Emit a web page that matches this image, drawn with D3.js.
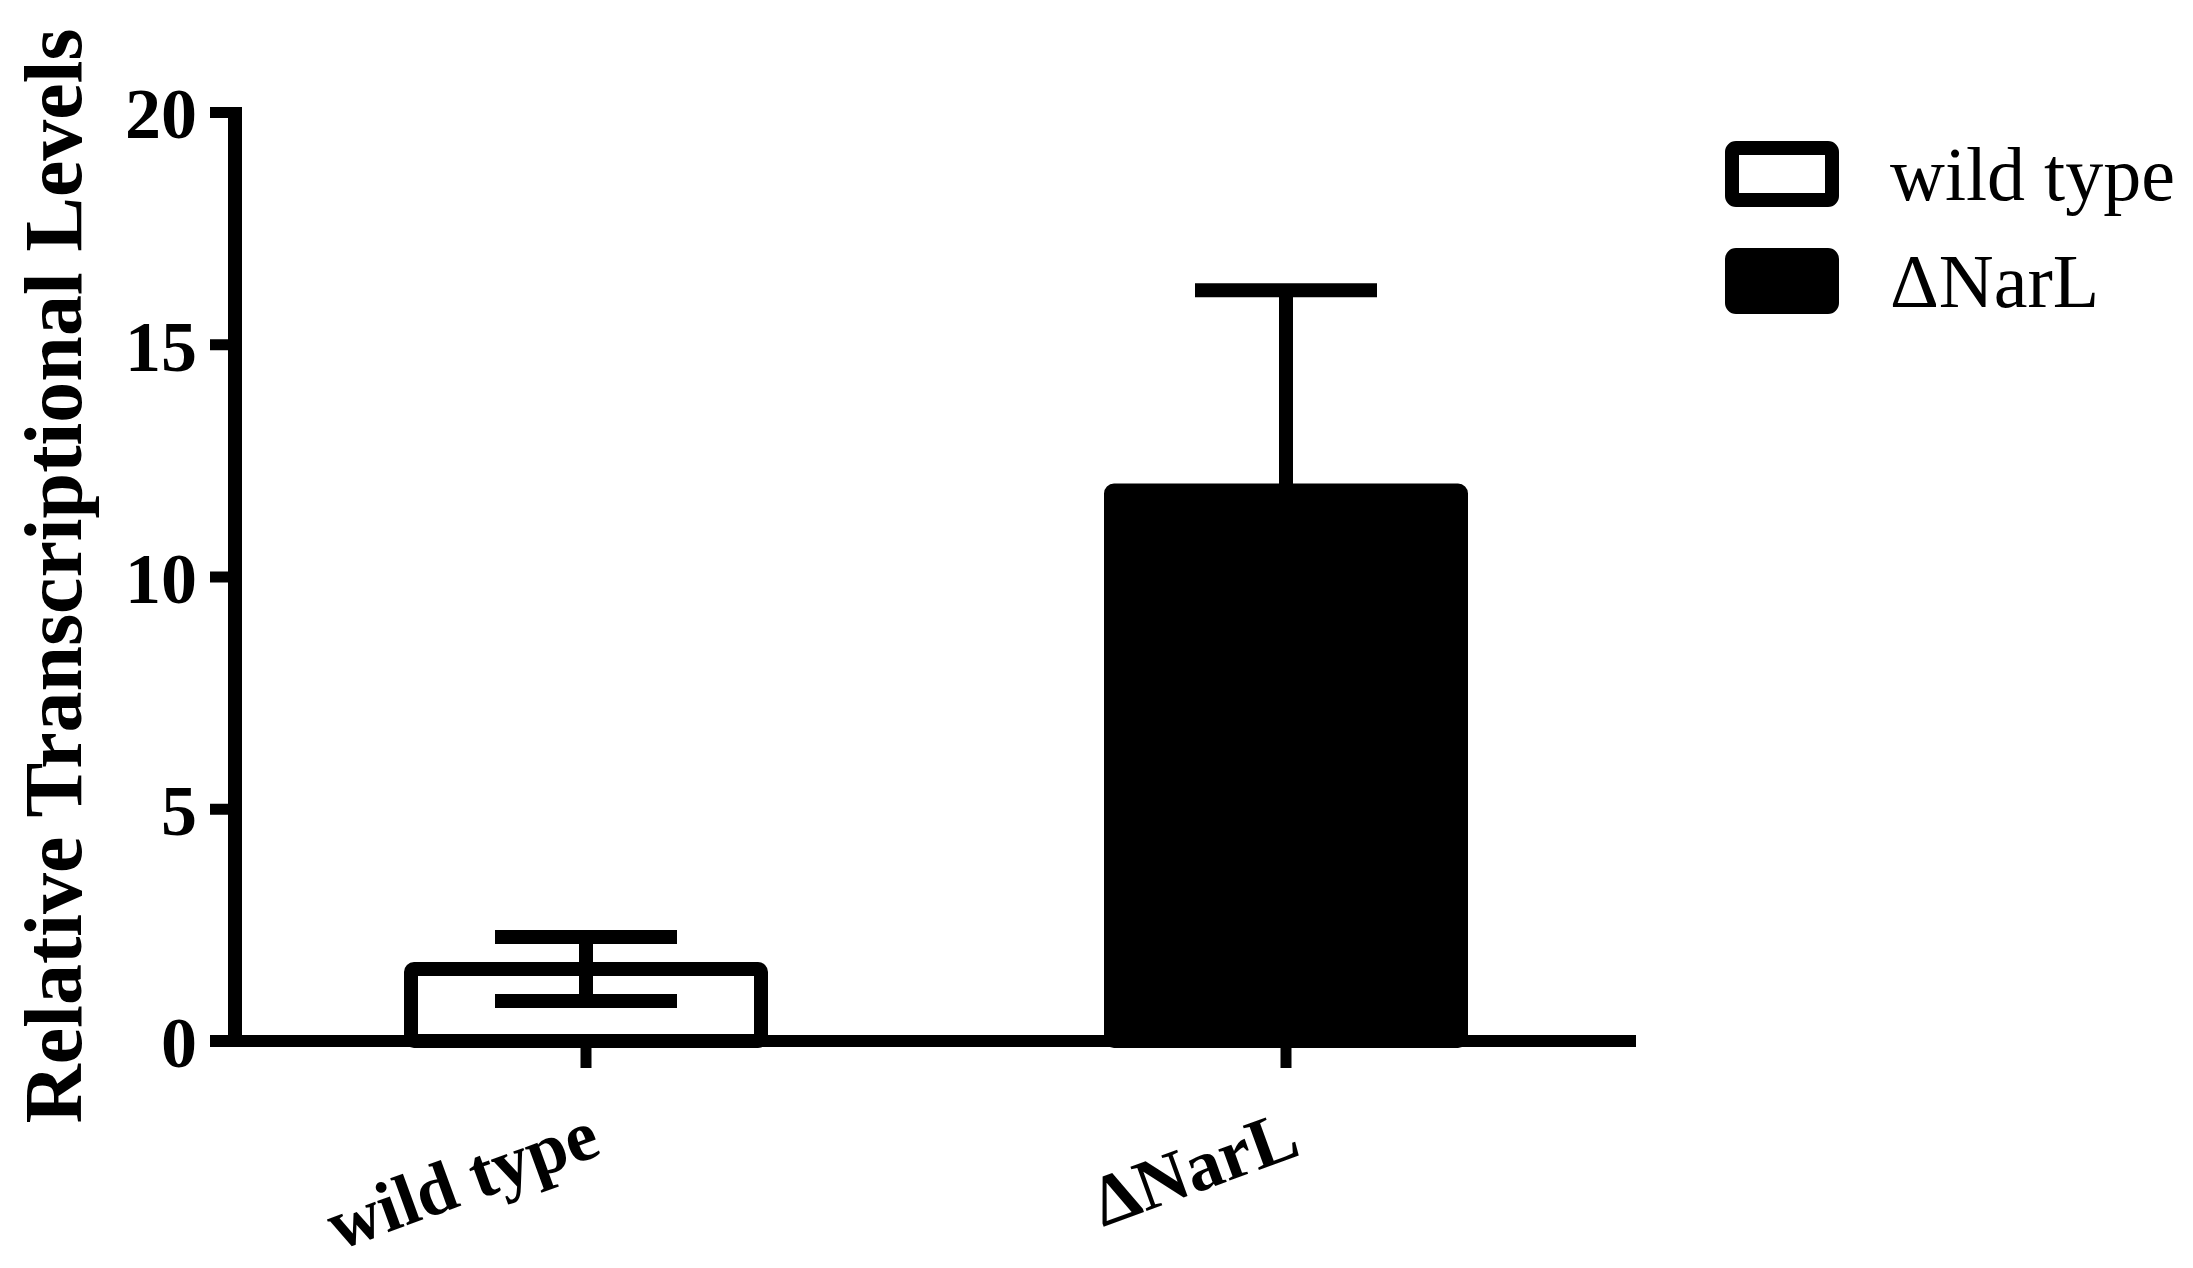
<!DOCTYPE html>
<html>
<head>
<meta charset="utf-8">
<script src="https://cdn.jsdelivr.net/npm/d3@7"></script>
<style>
	body { margin: 0; background: #fff; }
	text { font-family: "Liberation Serif", "Times New Roman", serif; fill: #000; }
</style>
</head>
<body>
<div id="chart"></div>
<script>
// Data
var categories = ["wild type", "\u0394NarL"];
var means = [1.55, 11.85];
var errors = [0.69, 4.31];
var fills = ["#fff", "#000"];
var yTicks = [0, 5, 10, 15, 20];

// SVG width and height
var width = 2193;
var height = 1268;
var stroke = 14;

var svg = d3.select("#chart").append("svg")
	.attr("width", width)
	.attr("height", height);

// Scales
var x = d3.scaleBand()
	.domain(categories)
	.range([236, 1636])
	.paddingInner(0.5)
	.paddingOuter(0.25);
var y = d3.scaleLinear()
	.domain([0, 20])
	.range([1041, 112]);

// Bars
svg.append("g")
	.selectAll("rect")
	.data(categories)
	.enter().append("rect")
	.attr("x", function(d){ return x(d); })
	.attr("y", function(d, i){ return y(means[i]); })
	.attr("width", x.bandwidth())
	.attr("height", function(d, i){ return y(0) - y(means[i]); })
	.attr("rx", 3)
	.style("fill", function(d, i){ return fills[i]; })
	.style("stroke", "#000")
	.style("stroke-width", stroke);

// Error bars
var capHalf = 91;
var eb = svg.append("g")
	.selectAll("g")
	.data(categories)
	.enter().append("g")
	.style("stroke", "#000")
	.style("stroke-width", stroke);
eb.append("line")
	.attr("x1", function(d){ return x(d) + x.bandwidth() / 2; })
	.attr("x2", function(d){ return x(d) + x.bandwidth() / 2; })
	.attr("y1", function(d, i){ return y(means[i] + errors[i]); })
	.attr("y2", function(d, i){ return y(means[i] - errors[i]); });
eb.append("line")
	.attr("x1", function(d){ return x(d) + x.bandwidth() / 2 - capHalf; })
	.attr("x2", function(d){ return x(d) + x.bandwidth() / 2 + capHalf; })
	.attr("y1", function(d, i){ return y(means[i] + errors[i]); })
	.attr("y2", function(d, i){ return y(means[i] + errors[i]); });
eb.append("line")
	.attr("x1", function(d){ return x(d) + x.bandwidth() / 2 - capHalf; })
	.attr("x2", function(d){ return x(d) + x.bandwidth() / 2 + capHalf; })
	.attr("y1", function(d, i){ return y(means[i] - errors[i]); })
	.attr("y2", function(d, i){ return y(means[i] - errors[i]); });

// Y axis
var axisX = 235;
var yAxis = svg.append("g")
	.attr("transform", "translate(" + axisX + ",0)")
	.call(d3.axisLeft(y).tickValues(yTicks).tickSize(25).tickSizeOuter(0).tickPadding(13));
yAxis.select(".domain").remove();
yAxis.selectAll(".tick line").style("stroke", "#000").style("stroke-width", 11);
yAxis.selectAll(".tick text")
	.style("font-size", "72px")
	.style("font-weight", "bold")
	.attr("dy", "0.36em");
svg.append("line")
	.attr("x1", axisX).attr("x2", axisX)
	.attr("y1", y(20) - 5).attr("y2", y(0))
	.style("stroke", "#000").style("stroke-width", 14);

// X axis
var xAxis = svg.append("g")
	.attr("transform", "translate(0," + y(0) + ")")
	.call(d3.axisBottom(x).tickSize(27).tickSizeOuter(0).tickFormat(""));
xAxis.select(".domain").remove();
xAxis.selectAll(".tick line").style("stroke", "#000").style("stroke-width", 11);
svg.append("line")
	.attr("x1", axisX - 25).attr("x2", 1636)
	.attr("y1", y(0)).attr("y2", y(0))
	.style("stroke", "#000").style("stroke-width", 12);

// Rotated category labels
svg.append("g")
	.selectAll("text")
	.data(categories)
	.enter().append("text")
	.attr("transform", function(d){
		return "translate(" + (x(d) + x.bandwidth() / 2 + 17) + ",1154) rotate(-20)";
	})
	.attr("text-anchor", "end")
	.style("font-size", "72px")
	.style("font-weight", "bold")
	.text(function(d){ return d; });

// Y axis title
svg.append("text")
	.attr("transform", "translate(81,576) rotate(-90)")
	.attr("text-anchor", "middle")
	.style("font-size", "82px")
	.style("font-weight", "bold")
	.text("Relative Transcriptional Levels");

// Legend
var leg = svg.append("g")
	.selectAll("g")
	.data(categories)
	.enter().append("g")
	.attr("transform", function(d, i){ return "translate(1732," + (148 + i * 107) + ")"; });
leg.append("rect")
	.attr("width", 100)
	.attr("height", 52)
	.attr("rx", 4)
	.style("fill", function(d, i){ return fills[i]; })
	.style("stroke", "#000")
	.style("stroke-width", stroke);
leg.append("text")
	.attr("x", 158)
	.attr("y", 52)
	.style("font-size", "76px")
	.text(function(d){ return d; });
</script>
</body>
</html>
